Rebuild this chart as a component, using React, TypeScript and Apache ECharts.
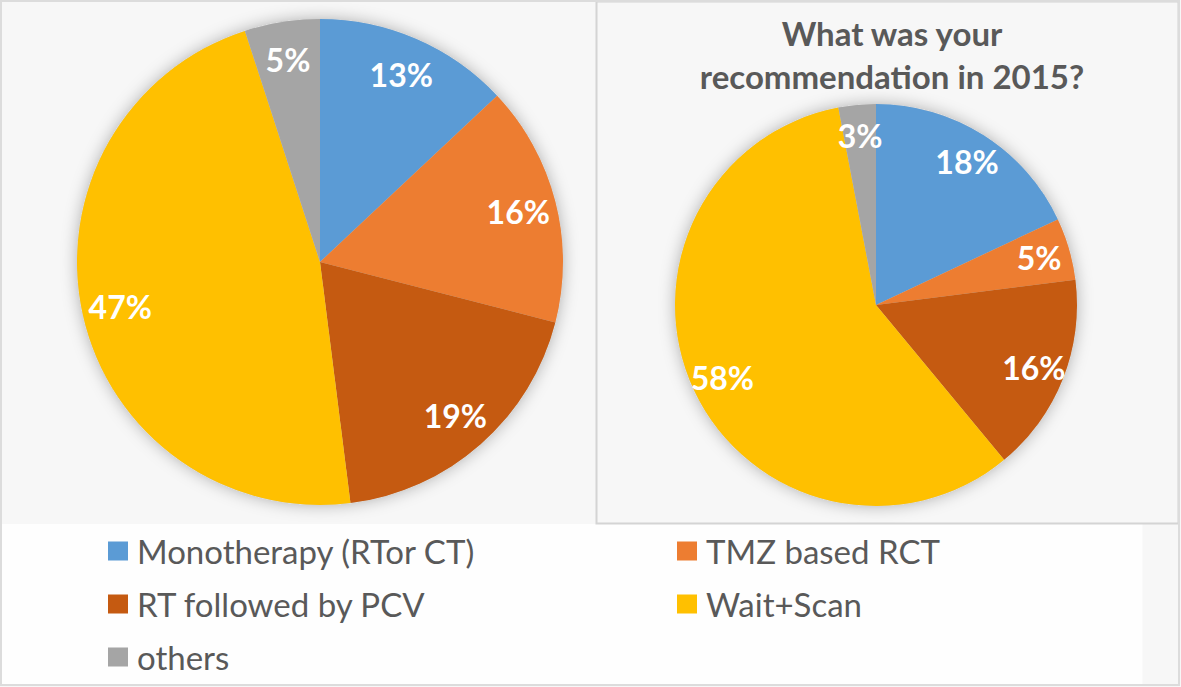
import React, { useEffect, useRef } from "react";
import * as echarts from "echarts";

const categories = ["Monotherapy (RTor CT)", "TMZ based RCT", "RT followed by PCV", "Wait+Scan", "others"];
const colors = ["#5b9bd5", "#ed7d31", "#c55a11", "#ffc000", "#a5a5a5"];
const leftValues = [13, 16, 19, 47, 5];
const rightValues = [18, 5, 16, 58, 3];
const rightTitle = "What was your\nrecommendation in 2015?";
const legendCol1 = ["Monotherapy (RTor CT)", "RT followed by PCV", "others"];
const legendCol2 = ["TMZ based RCT", "Wait+Scan"];

const FONT = "Lato, 'Open Sans', sans-serif";

function buildData(values: number[], transparent: boolean) {
  return categories.map((name, i) => ({
    name,
    value: values[i],
    itemStyle: { color: transparent ? "rgba(0,0,0,0)" : colors[i] },
  }));
}

export default function App() {
  const ref = useRef<HTMLDivElement>(null);
  useEffect(() => {
    if (!ref.current) return;
    const chart = echarts.init(ref.current, undefined, { renderer: "svg" });
    const L = { c: [320, 262], r: 243 };
    const R = { c: [876, 305], r: 201 };
    const shadowSeries = (p: { c: number[]; r: number }) => ({
      type: "pie",
      silent: true,
      center: p.c,
      radius: p.r,
      legendHoverLink: false,
      label: { show: false },
      labelLine: { show: false },
      itemStyle: {
        color: "#cccccc",
        shadowBlur: 16,
        shadowColor: "rgba(0,0,0,0.3)",
        shadowOffsetX: 0,
        shadowOffsetY: 0,
      },
      data: [{ value: 1, name: "" }],
    });
    const mainSeries = (p: { c: number[]; r: number }, values: number[]) => ({
      type: "pie",
      center: p.c,
      radius: p.r,
      startAngle: 90,
      clockwise: true,
      label: { show: false },
      labelLine: { show: false },
      emphasis: { disabled: true },
      data: buildData(values, false),
    });
    const labelSeries = (p: { c: number[]; r: number }, values: number[]) => ({
      type: "pie",
      silent: true,
      center: p.c,
      radius: [p.r * 0.66, p.r],
      startAngle: 90,
      clockwise: true,
      legendHoverLink: false,
      emphasis: { disabled: true },
      label: {
        show: true,
        position: "inside",
        formatter: "{c}%",
        color: "#ffffff",
        fontFamily: FONT,
        fontWeight: "bold",
        fontSize: 32,
      },
      labelLine: { show: false },
      itemStyle: { color: "rgba(0,0,0,0)", borderWidth: 0 },
      data: buildData(values, true),
    });
    const legendBase = {
      orient: "vertical",
      icon: "rect",
      padding: 0,
      itemWidth: 20,
      itemHeight: 19,
      itemGap: 19,
      selectedMode: false,
      textStyle: {
        color: "#595959",
        fontFamily: FONT,
        fontSize: 33,
        lineHeight: 34,
        padding: [0, 0, 0, 4],
      },
    };
    chart.setOption({
      animation: false,
      backgroundColor: "#f7f7f7",
      title: {
        text: rightTitle,
        left: 887,
        top: 6,
        textAlign: "center",
        textStyle: {
          color: "#595959",
          fontFamily: FONT,
          fontWeight: "bold",
          fontSize: 33,
          lineHeight: 43,
        },
      },
      graphic: [
        {
          type: "rect",
          z: -10,
          shape: { x: 1.5, y: 524, width: 1141, height: 160.5 },
          style: { fill: "#fefefe", stroke: "none" },
          silent: true,
        },
        {
          type: "rect",
          z: -9,
          shape: { x: 596.5, y: 1.5, width: 582, height: 522 },
          style: { fill: "none", stroke: "#d4d4d4", lineWidth: 2 },
          silent: true,
        },
        {
          type: "rect",
          z: -9,
          shape: { x: 1, y: 1, width: 1178, height: 684 },
          style: { fill: "none", stroke: "#dcdcdc", lineWidth: 2 },
          silent: true,
        },
      ],
      legend: [
        { ...legendBase, data: legendCol1, left: 108, top: 534 },
        { ...legendBase, data: legendCol2, left: 677, top: 534 },
      ],
      series: [
        shadowSeries(L),
        shadowSeries(R),
        mainSeries(L, leftValues),
        mainSeries(R, rightValues),
        labelSeries(L, leftValues),
        labelSeries(R, rightValues),
      ],
    });
    return () => chart.dispose();
  }, []);
  return (
    <div
      ref={ref}
      style={{ position: "fixed", left: 0, top: 0, width: 1181, height: 687 }}
    />
  );
}
